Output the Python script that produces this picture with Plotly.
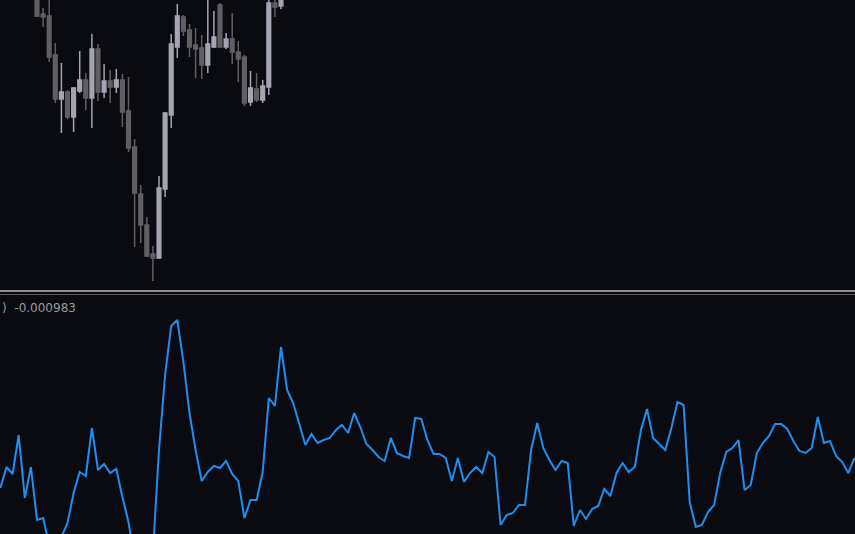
import plotly.graph_objects as go

# ---------------- data ----------------
# candle bar indices (visible part of the price panel)
candle_idx = list(range(0, 41))
opens = [1.10260, 1.10236, 1.10234, 1.10195, 1.10151, 1.10158, 1.10133, 1.10159, 1.10170, 1.10152,
         1.10201, 1.10158, 1.10169, 1.10163, 1.10170, 1.10139, 1.10103, 1.10056, 1.10025, 1.09996,
         1.09992, 1.10061, 1.10135, 1.10203, 1.10233, 1.10220, 1.10205, 1.10202, 1.10185, 1.10203,
         1.10245, 1.10203, 1.10211, 1.10198, 1.10193, 1.10148, 1.10161, 1.10150, 1.10163, 1.10247,
         1.10244]
highs = [1.10270, 1.10242, 1.10255, 1.10207, 1.10187, 1.10160, 1.10163, 1.10199, 1.10177, 1.10216,
         1.10206, 1.10186, 1.10180, 1.10181, 1.10176, 1.10173, 1.10111, 1.10065, 1.10033, 1.10004,
         1.10074, 1.10138, 1.10216, 1.10246, 1.10235, 1.10226, 1.10222, 1.10215, 1.10253, 1.10239,
         1.10247, 1.10217, 1.10237, 1.10209, 1.10195, 1.10179, 1.10177, 1.10170, 1.10255, 1.10255,
         1.10260]
lows = [1.10233, 1.10223, 1.10188, 1.10147, 1.10117, 1.10131, 1.10118, 1.10157, 1.10140, 1.10122,
        1.10149, 1.10152, 1.10147, 1.10157, 1.10123, 1.10098, 1.10003, 1.10007, 1.09993, 1.09969,
        1.09991, 1.10053, 1.10122, 1.10192, 1.10214, 1.10193, 1.10172, 1.10171, 1.10177, 1.10202,
        1.10202, 1.10201, 1.10186, 1.10168, 1.10144, 1.10144, 1.10148, 1.10147, 1.10155, 1.10233,
        1.10241]
closes = [1.10234, 1.10233, 1.10193, 1.10151, 1.10158, 1.10133, 1.10162, 1.10170, 1.10152, 1.10201,
          1.10158, 1.10169, 1.10163, 1.10170, 1.10138, 1.10102, 1.10057, 1.10025, 1.09994, 1.09992,
          1.10062, 1.10137, 1.10206, 1.10234, 1.10219, 1.10203, 1.10201, 1.10185, 1.10206, 1.10213,
          1.10203, 1.10211, 1.10198, 1.10191, 1.10147, 1.10162, 1.10150, 1.10164, 1.10247, 1.10243,
          1.10255]

# indicator line, bar indices -6 .. 134
ind_idx = list(range(-6, 135))
ind_values = [
    -0.00158, -0.00116, -0.00130, -0.00052, -0.00178, -0.00116,
    -0.00222, -0.00218, -0.00272, -0.00286, -0.00256, -0.00228, -0.00168, -0.00126, -0.00134, -0.00038,
    -0.00122, -0.00110, -0.00128, -0.00120, -0.00176, -0.00226, -0.00302, -0.00326, -0.00312, -0.00286,
    -0.00082, 0.00068, 0.00166, 0.00178, 0.00094, -0.00008, -0.00082, -0.00144, -0.00126, -0.00114,
    -0.00118, -0.00104, -0.00130, -0.00144, -0.00218, -0.00182, -0.00182, -0.00126, 0.00022, 0.00006,
    0.00124, 0.00038, 0.00012, -0.00030, -0.00072, -0.00050, -0.00068, -0.00062, -0.00058, -0.00042,
    -0.00032, -0.00048, -0.00008, -0.00036, -0.00070, -0.00082, -0.00096, -0.00104, -0.00058, -0.00088,
    -0.00094, -0.00098, -0.00018, -0.00020, -0.00062, -0.00090, -0.00090, -0.00098, -0.00144, -0.00098,
    -0.00146, -0.00128, -0.00116, -0.00128, -0.00086, -0.00096, -0.00232, -0.00212, -0.00208, -0.00192,
    -0.00192, -0.00082, -0.00028, -0.00078, -0.00102, -0.00122, -0.00104, -0.00108, -0.00234, -0.00202,
    -0.00220, -0.00200, -0.00194, -0.00160, -0.00174, -0.00128, -0.00108, -0.00126, -0.00116, -0.00042,
    0.00000, -0.00058, -0.00070, -0.00082, -0.00038, 0.00014, 0.00008, -0.00186, -0.00236, -0.00232,
    -0.00206, -0.00192, -0.00128, -0.00086, -0.00078, -0.00062, -0.00162, -0.00152, -0.00088, -0.00068,
    -0.00054, -0.00030, -0.00030, -0.00040, -0.00064, -0.00084, -0.00088, -0.00078, -0.00016, -0.00068,
    -0.00064, -0.00094, -0.00106, -0.00128, -0.00098,
]
current_label = ") -0.000983"

# ---------------- style ----------------
W, H = 855, 534
BG = "#0a0b10"
UP = "#a4a4b2"
DOWN = "#5f5f64"
LINE = "#1e8ff0"

X_RANGE = [-37 / 6.1, (855 - 37) / 6.1]

fig = go.Figure()
fig.add_trace(go.Candlestick(
    x=candle_idx, open=opens, high=highs, low=lows, close=closes,
    increasing=dict(line=dict(color=UP, width=1.5), fillcolor=UP),
    decreasing=dict(line=dict(color=DOWN, width=1.5), fillcolor=DOWN),
    whiskerwidth=0, xaxis="x", yaxis="y", hoverinfo="skip", showlegend=False,
))
fig.add_trace(go.Scatter(
    x=ind_idx, y=ind_values, mode="lines",
    line=dict(color=LINE, width=2),
    xaxis="x2", yaxis="y2", hoverinfo="skip", showlegend=False,
))

axis_off = dict(showgrid=False, zeroline=False, showticklabels=False, ticks="", showline=False, fixedrange=True)

fig.update_layout(
    width=W, height=H,
    margin=dict(l=0, r=0, t=0, b=0),
    paper_bgcolor=BG, plot_bgcolor=BG,
    boxgap=0.4, boxgroupgap=0,
    xaxis=dict(domain=[0, 1], range=X_RANGE, rangeslider=dict(visible=False), anchor="y", **axis_off),
    yaxis=dict(domain=[1 - 289 / H, 1], range=[1.09961, 1.10250], anchor="x", **axis_off),
    xaxis2=dict(domain=[0, 1], range=X_RANGE, anchor="y2", **axis_off),
    yaxis2=dict(domain=[0, 1 - 296 / H], range=[-0.00250, 0.00226], anchor="x2", **axis_off),
    shapes=[
        dict(type="line", xref="paper", yref="paper", x0=0, x1=1,
             y0=1 - 291 / H, y1=1 - 291 / H, line=dict(color="#8e8e92", width=2)),
        dict(type="line", xref="paper", yref="paper", x0=0, x1=1,
             y0=1 - 294.5 / H, y1=1 - 294.5 / H, line=dict(color="#5e5e62", width=1)),
    ],
    annotations=[
        dict(xref="paper", yref="paper", x=0, y=1 - 308 / H, xanchor="left", yanchor="middle",
             text=current_label.replace(" ", "&nbsp;&nbsp;"), showarrow=False,
             font=dict(family="DejaVu Sans", size=12, color="#9a9a9e")),
    ],
)

fig.write_html(
    "out.html",
    config={"displayModeBar": False, "staticPlot": True},
    post_script="document.body.style.margin='0';document.body.style.background='#0a0b10';",
)
